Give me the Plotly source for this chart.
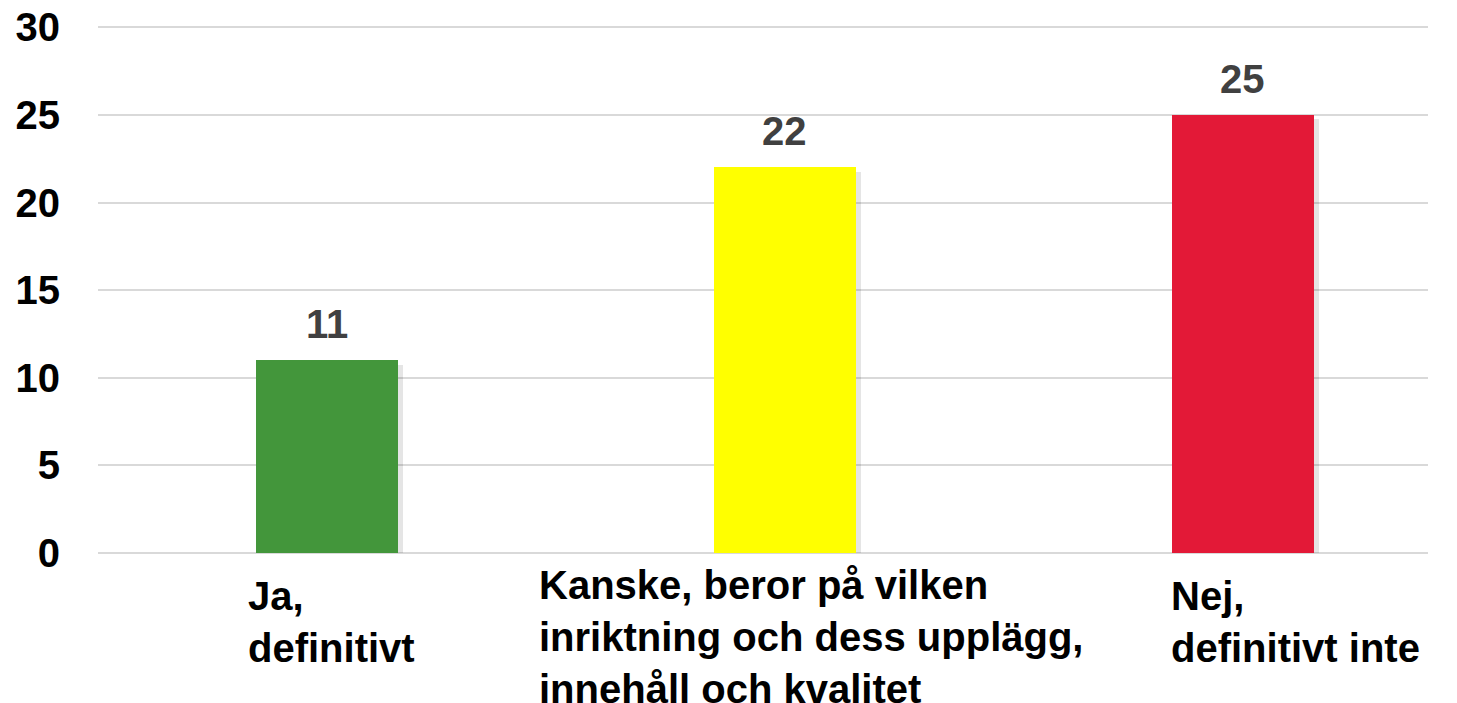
import plotly.graph_objects as go

categories = ["Ja,<br>definitivt",
              "Kanske, beror på vilken<br>inriktning och dess upplägg,<br>innehåll och kvalitet",
              "Nej,<br>definitivt inte"]
values = [11, 22, 25]
bar_colors = ["#43963B", "#FFFF00", "#E31937"]
y_ticks = [0, 5, 10, 15, 20, 25, 30]

# label placement (pixels relative to category centre)
label_xshift = [-81, -248, -74]
label_yshift = [-19, -8, -19]

FONT = "Liberation Sans, Arial, sans-serif"
x_idx = list(range(len(categories)))
fig = go.Figure()

# soft shadow behind bars
fig.add_trace(go.Bar(
    x=x_idx, y=values, base=-0.25, width=0.312, offset=-0.156 + 0.011,
    marker=dict(color="rgba(0,0,0,0.10)", line=dict(width=0)),
    hoverinfo="skip", showlegend=False))

fig.add_trace(go.Bar(
    x=x_idx, y=values, width=0.312, offset=-0.156,
    marker=dict(color=bar_colors, line=dict(width=0)),
    showlegend=False))

for i, v in enumerate(values):
    fig.add_annotation(x=i, y=v, xref="x", yref="y", text=str(v),
                       showarrow=False, yanchor="bottom", yshift=12,
                       font=dict(family=FONT, size=40, color="#404040", weight="bold"))

for i, lab in enumerate(categories):
    fig.add_annotation(x=i, y=0, xref="x", yref="paper", text=lab,
                       showarrow=False, xanchor="left", yanchor="top", align="left",
                       xshift=label_xshift[i], yshift=label_yshift[i],
                       font=dict(family=FONT, size=40, color="#000000", weight="bold"))

fig.update_layout(
    width=1457, height=703,
    margin=dict(l=98, r=29, t=22, b=150, autoexpand=False),
    paper_bgcolor="white", plot_bgcolor="white",
    bargap=0, barmode="overlay",
    xaxis=dict(range=[-0.5, 2.404], showticklabels=False, showgrid=False,
               zeroline=False, showline=False, ticks="", automargin=False),
    yaxis=dict(range=[0, 30.3], tickvals=y_ticks, showgrid=True, gridcolor="#D9D9D9",
               gridwidth=2, zeroline=True, zerolinecolor="#D9D9D9", zerolinewidth=2,
               showline=False, ticks="", ticklabelstandoff=37, ticklabeloverflow="allow",
               automargin=False,
               tickfont=dict(family=FONT, size=40, color="#000000", weight="bold")),
)

fig.write_html("out.html", config={"displayModeBar": False},
               post_script="document.body.style.margin='0';document.body.style.overflow='hidden';")
